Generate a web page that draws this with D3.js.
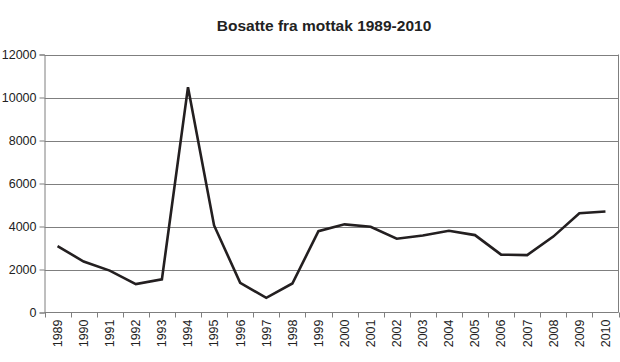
<!DOCTYPE html>
<html><head><meta charset="utf-8">
<script src="https://cdn.jsdelivr.net/npm/d3@7"></script>
<style>body{margin:0;background:#fff}svg{display:block}</style>
</head><body>
<svg id="c" width="620" height="362"></svg>
<script>
const years = ["1989","1990","1991","1992","1993","1994","1995","1996","1997","1998","1999","2000","2001","2002","2003","2004","2005","2006","2007","2008","2009","2010"];
const values = [3090,2370,1950,1320,1540,10480,4050,1380,680,1350,3780,4100,3990,3430,3580,3800,3600,2690,2670,3530,4620,4700];
const yTicks = [0,2000,4000,6000,8000,10000,12000];
const title = "Bosatte fra mottak 1989-2010";

const svg = d3.select("#c");
const L = 44.5, R = 618.5, T = 54.5, B = 312.5;
const x = d3.scaleBand().domain(years).range([L, R]);
const y = d3.scaleLinear().domain([0,12000]).range([B, T]);
const gridC = "#7f7f7f";

svg.append("text").attr("x", 324).attr("y", 31).attr("text-anchor","middle")
  .attr("font-family","Liberation Sans, Arial, sans-serif").attr("font-weight","bold")
  .attr("font-size","15.5px").attr("fill","#222").text(title);

// gridlines
svg.append("g").selectAll("line").data(yTicks.filter(d=>d>0)).join("line")
  .attr("x1", L).attr("x2", R).attr("y1", d=>Math.round(y(d))+0.5).attr("y2", d=>Math.round(y(d))+0.5)
  .attr("stroke", gridC).attr("stroke-width",1);
// right border
svg.append("line").attr("x1",R).attr("x2",R).attr("y1",T).attr("y2",B).attr("stroke",gridC);

// y axis
const ya = svg.append("g").attr("transform",`translate(${L},0)`)
  .call(d3.axisLeft(y).tickValues(yTicks).tickSize(5).tickPadding(3).tickFormat(d3.format("d")));
ya.select(".domain").attr("stroke",gridC);
ya.selectAll(".tick line").attr("stroke",gridC);
ya.selectAll("text").attr("font-family","Liberation Sans, Arial, sans-serif").attr("font-size","12.5px").attr("fill","#222");

// x axis
const xa = svg.append("g").attr("transform",`translate(0,${B})`)
  .call(d3.axisBottom(x).tickSize(0).tickPadding(0));
xa.select(".domain").attr("stroke",gridC).attr("d", `M${L},0H${R}`);
xa.selectAll(".tick line").remove();
xa.selectAll(".tick text").attr("font-family","Liberation Sans, Arial, sans-serif").attr("font-size","12.5px").attr("fill","#222")
  .attr("text-anchor","end").attr("dy","0.35em").attr("transform","translate(0,7) rotate(-90)").attr("x",0).attr("y",0);
// band boundary ticks
const bounds = years.map(d=>x(d)).concat([R]);
svg.append("g").selectAll("line").data(bounds).join("line")
  .attr("x1",d=>Math.round(d)+0.5).attr("x2",d=>Math.round(d)+0.5).attr("y1",B).attr("y2",B+5).attr("stroke",gridC);

// line
const line = d3.line().x((d,i)=>x(years[i])+x.bandwidth()/2).y(d=>y(d));
svg.append("path").datum(values).attr("d",line).attr("fill","none")
  .attr("stroke","#231f20").attr("stroke-width",2.6).attr("stroke-linejoin","miter");
</script>
</body></html>
